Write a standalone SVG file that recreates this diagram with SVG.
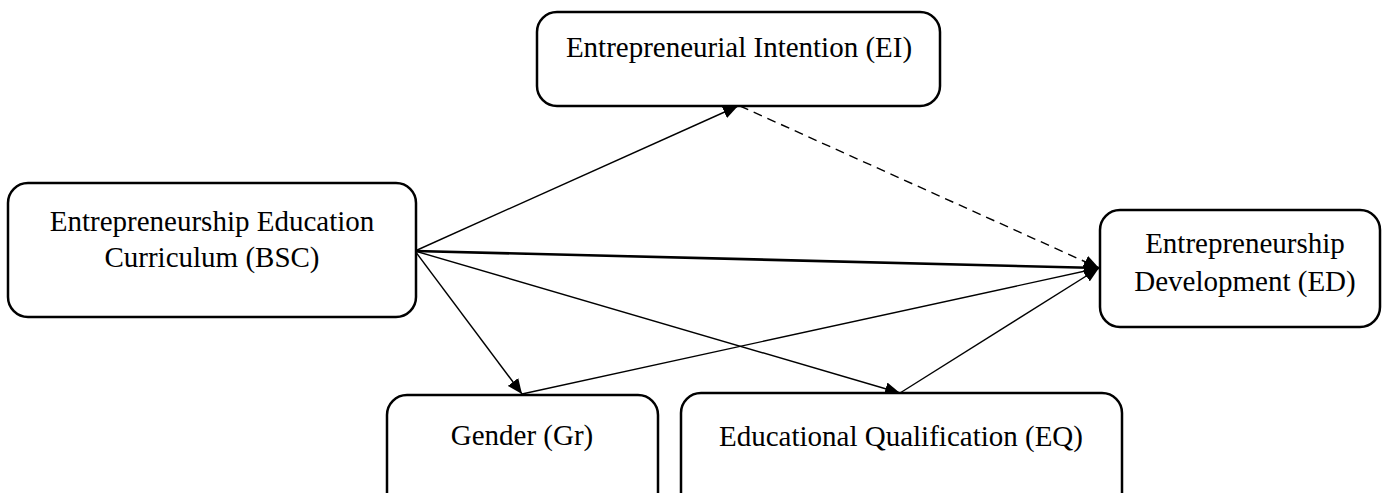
<svg xmlns="http://www.w3.org/2000/svg" width="1383" height="493" viewBox="0 0 1383 493">
<style>
.box{fill:#fff;stroke:#000;stroke-width:2.5}
.lbl{font-family:"Liberation Serif","Times New Roman",serif;font-size:29px;fill:#000;text-anchor:middle}
.ln{stroke:#000;stroke-width:1.4;fill:none}
</style>
<defs>
<marker id="ah" markerUnits="userSpaceOnUse" markerWidth="16" markerHeight="13" refX="15" refY="6.5" orient="auto">
<path d="M0,0 L15,6.5 L0,13 z" fill="#000"/>
</marker>
</defs>
<g id="connectors">
<line class="ln" x1="415" y1="251" x2="738" y2="106" marker-end="url(#ah)"/>
<line class="ln" x1="740" y1="106" x2="1099" y2="268" stroke-dasharray="9,6" marker-end="url(#ah)"/>
<line class="ln" x1="415" y1="251" x2="1099" y2="268" style="stroke-width:2.6" marker-end="url(#ah)"/>
<line class="ln" x1="415" y1="251" x2="522" y2="394" marker-end="url(#ah)"/>
<line class="ln" x1="415" y1="251" x2="900" y2="393" marker-end="url(#ah)"/>
<line class="ln" x1="522" y1="394" x2="1099" y2="268" marker-end="url(#ah)"/>
<line class="ln" x1="900" y1="393" x2="1099" y2="268" marker-end="url(#ah)"/>
</g>
<g id="node-ei">
<rect class="box" x="537" y="12" width="403" height="94" rx="20"/>
<text class="lbl" x="739" y="57">Entrepreneurial Intention (EI)</text>
</g>
<g id="node-bsc">
<rect class="box" x="8" y="183" width="408" height="134" rx="20"/>
<text class="lbl" x="212" y="231">Entrepreneurship Education</text>
<text class="lbl" x="212" y="267">Curriculum (BSC)</text>
</g>
<g id="node-ed">
<rect class="box" x="1100" y="210" width="280" height="117" rx="20"/>
<text class="lbl" x="1245" y="253">Entrepreneurship</text>
<text class="lbl" x="1245" y="291">Development (ED)</text>
</g>
<g id="node-gr">
<rect class="box" x="387" y="395" width="271" height="120" rx="20"/>
<text class="lbl" x="522" y="445">Gender (Gr)</text>
</g>
<g id="node-eq">
<rect class="box" x="681" y="393" width="441" height="120" rx="20"/>
<text class="lbl" x="901" y="446">Educational Qualification (EQ)</text>
</g>
</svg>
